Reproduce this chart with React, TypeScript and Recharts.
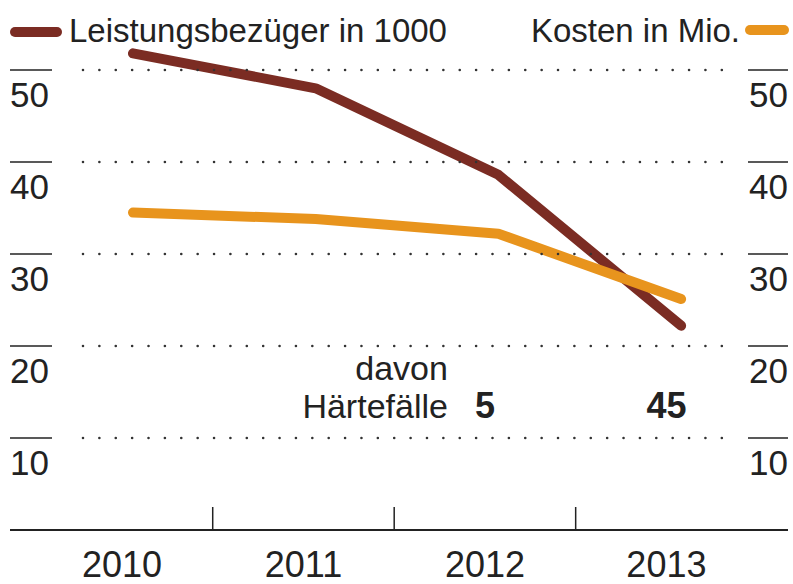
import React from 'react';
import { LineChart, Line, XAxis, YAxis } from 'recharts';

const years = [2010, 2011, 2012, 2013];
const recipients = [51.8, 48.0, 38.6, 22.2];
const costs = [34.5, 33.8, 32.2, 25.1];
const hardshipCases: (number | null)[] = [null, null, 5, 45];
const valueTicks = [10, 20, 30, 40, 50];
const yearTicks = [2010, 2010.5, 2011, 2011.5, 2012, 2012.5, 2013];

const DARK = '#7b2c23';
const ORANGE = '#e8941d';
const INK = '#222';
const FONT = '"Liberation Sans", Arial, sans-serif';

const data = years.map((year, i) => ({
  year,
  recipients: recipients[i],
  costs: costs[i],
}));

function LeftTick({ y, payload }: any) {
  return (
    <g>
      <line x1={10} x2={52} y1={y} y2={y} stroke={INK} strokeWidth={1.5} />
      <text x={10} y={y + 37} fontSize={35} fill={INK} fontFamily={FONT}>
        {payload.value}
      </text>
      <line
        x1={83}
        x2={735}
        y1={y}
        y2={y}
        stroke="#333"
        strokeWidth={2.6}
        strokeDasharray="0 16.38"
        strokeLinecap="round"
      />
    </g>
  );
}

function RightTick({ y, payload }: any) {
  return (
    <g>
      <line x1={748} x2={788} y1={y} y2={y} stroke={INK} strokeWidth={1.5} />
      <text x={788} y={y + 37} fontSize={35} fill={INK} textAnchor="end" fontFamily={FONT}>
        {payload.value}
      </text>
    </g>
  );
}

function YearTick({ x, y, payload }: any) {
  const v = payload.value;
  if (!Number.isInteger(v)) {
    return <line x1={x} x2={x} y1={y - 23} y2={y} stroke={INK} strokeWidth={1.5} />;
  }
  const i = years.indexOf(v);
  const cases = hardshipCases[i];
  const first = hardshipCases.findIndex(c => c != null);
  return (
    <g fontFamily={FONT} fill={INK}>
      <text x={x} y={y + 47} fontSize={36} textAnchor="middle">
        {v}
      </text>
      {cases != null && (
        <text x={x} y={y - 112} fontSize={36} fontWeight="bold" textAnchor="middle">
          {cases}
        </text>
      )}
      {i === first && (
        <text x={x - 37} y={y - 150} fontSize={34} textAnchor="end">
          <tspan x={x - 37}>davon</tspan>
          <tspan x={x - 37} dy={38}>Härtefälle</tspan>
        </text>
      )}
    </g>
  );
}

export default function App() {
  return (
    <div
      style={{
        position: 'absolute',
        left: 0,
        top: 0,
        width: 793,
        height: 584,
        background: '#fff',
        fontFamily: FONT,
      }}
    >
      <LineChart width={793} height={584} data={data} margin={{ top: 0, right: 4, bottom: 0, left: 9 }}>
        <XAxis xAxisId="pts" dataKey="year" type="number" domain={[2009.327, 2013.585]} hide />
        <XAxis
          xAxisId="lbl"
          dataKey="year"
          type="number"
          domain={[2009.383, 2013.67]}
          ticks={yearTicks}
          interval={0}
          height={54}
          tickSize={0}
          tickMargin={0}
          tickLine={false}
          axisLine={{ stroke: INK, strokeWidth: 2 }}
          tick={<YearTick />}
        />
        <YAxis
          yAxisId="left"
          type="number"
          domain={[0, 57.6]}
          ticks={valueTicks}
          interval={0}
          width={1}
          axisLine={false}
          tickLine={false}
          tick={<LeftTick />}
        />
        <YAxis
          yAxisId="right"
          orientation="right"
          type="number"
          domain={[0, 57.6]}
          ticks={valueTicks}
          interval={0}
          width={1}
          axisLine={false}
          tickLine={false}
          tick={<RightTick />}
        />
        <Line
          xAxisId="pts"
          yAxisId="left"
          dataKey="recipients"
          stroke={DARK}
          strokeWidth={10}
          strokeLinecap="round"
          strokeLinejoin="round"
          dot={false}
          activeDot={false}
          type="linear"
          isAnimationActive={false}
        />
        <Line
          xAxisId="pts"
          yAxisId="right"
          dataKey="costs"
          stroke={ORANGE}
          strokeWidth={10}
          strokeLinecap="round"
          strokeLinejoin="round"
          dot={false}
          activeDot={false}
          type="linear"
          isAnimationActive={false}
        />
      </LineChart>
      <svg
        width={793}
        height={50}
        style={{ position: 'absolute', left: 0, top: 0 }}
        fontFamily={FONT}
      >
        <line x1={15} x2={57} y1={32} y2={32} stroke={DARK} strokeWidth={10} strokeLinecap="round" />
        <text x={69} y={42} fontSize={33} fill={INK}>
          Leistungsbezüger in 1000
        </text>
        <text x={740} y={42} fontSize={33} fill={INK} textAnchor="end">
          Kosten in Mio.
        </text>
        <line x1={750} x2={784} y1={30} y2={30} stroke={ORANGE} strokeWidth={10} strokeLinecap="round" />
      </svg>
    </div>
  );
}
